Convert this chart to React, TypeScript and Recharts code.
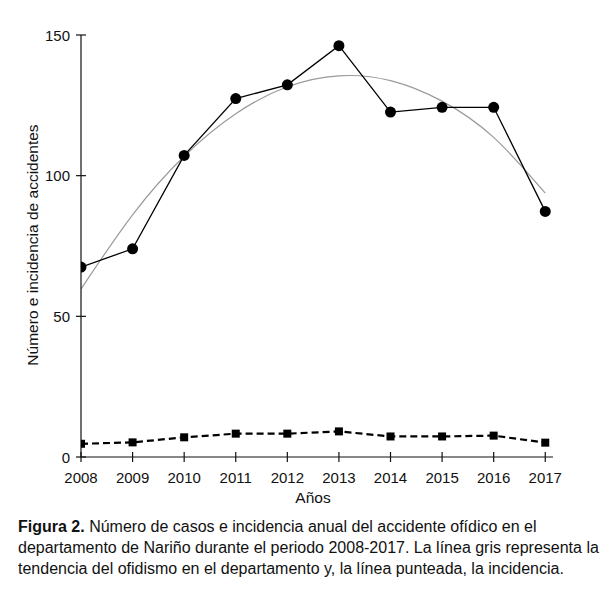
import { LineChart, Line, XAxis, YAxis } from 'recharts';

const years = [2008, 2009, 2010, 2011, 2012, 2013, 2014, 2015, 2016, 2017];
const casos = [67.5, 74, 107.2, 127.4, 132.3, 146.2, 122.6, 124.3, 124.3, 87.3];
const tendencia = [59.7, 86.1, 106.9, 122, 131.6, 135.5, 133.8, 126.5, 113.6, 93.8];
const incidencia = [4.7, 5.2, 7, 8.3, 8.3, 9.1, 7.3, 7.3, 7.6, 5.1];
const yTicks = [0, 50, 100, 150];

const FONT = '"Liberation Sans", Arial, Helvetica, sans-serif';

const data = years.map((y, i) => ({
  year: y,
  casos: casos[i],
  tendencia: tendencia[i],
  incidencia: incidencia[i],
}));

function XTick({ x, y, payload }: any) {
  return (
    <g>
      <line x1={x} x2={x} y1={y - 5} y2={y + 5} stroke="#111" strokeWidth={1.2} />
      <text x={x} y={y + 26} textAnchor="middle" fontSize={15} fontFamily={FONT} fill="#111">
        {payload.value}
      </text>
    </g>
  );
}

function YTick({ x, y, payload }: any) {
  return (
    <g>
      <line x1={x - 5} x2={x + 5} y1={y} y2={y} stroke="#111" strokeWidth={1.2} />
      <text x={x - 11} y={y + 5.5} textAnchor="end" fontSize={15} fontFamily={FONT} fill="#111">
        {payload.value}
      </text>
    </g>
  );
}

function SquareDot({ cx, cy, index }: any) {
  return <rect key={`sq-${index}`} x={cx - 4} y={cy - 4} width={8} height={8} fill="#000" />;
}

export default function App() {
  return (
    <div style={{ position: 'absolute', left: 0, top: 0, width: 612, height: 598, background: '#fff', fontFamily: FONT }}>
      <LineChart width={612} height={598} data={data} margin={{ top: 35, right: 59, left: 21, bottom: 111 }}>
        <XAxis
          dataKey="year"
          type="number"
          domain={[2008, 2017.15]}
          ticks={years}
          allowDataOverflow
          height={30}
          tickSize={0}
          tickMargin={0}
          tick={<XTick />}
          axisLine={{ stroke: '#111', strokeWidth: 1.2 }}
          tickLine={false}
        />
        <YAxis
          domain={[0, 150]}
          ticks={yTicks}
          width={60}
          tickSize={0}
          tickMargin={0}
          tick={<YTick />}
          axisLine={{ stroke: '#111', strokeWidth: 1.2 }}
          tickLine={false}
        />
        <Line
          dataKey="tendencia"
          type="natural"
          stroke="#9a9a9a"
          strokeWidth={1.2}
          dot={false}
          isAnimationActive={false}
        />
        <Line
          dataKey="incidencia"
          type="linear"
          stroke="#000"
          strokeWidth={2.2}
          strokeDasharray="7 4"
          dot={<SquareDot />}
          isAnimationActive={false}
        />
        <Line
          dataKey="casos"
          type="linear"
          stroke="#000"
          strokeWidth={1.3}
          dot={{ r: 5.5, fill: '#000', stroke: '#000', strokeWidth: 0 }}
          isAnimationActive={false}
        />
      </LineChart>
      <div
        style={{
          position: 'absolute',
          left: 33,
          top: 245,
          transform: 'translate(-50%, -50%) rotate(-90deg)',
          whiteSpace: 'nowrap',
          fontSize: 15.5,
          color: '#111',
        }}
      >
        Número e incidencia de accidentes
      </div>
      <div
        style={{
          position: 'absolute',
          left: 313,
          top: 498,
          transform: 'translate(-50%, -50%)',
          fontSize: 15.5,
          color: '#111',
        }}
      >
        Años
      </div>
      <div
        style={{
          position: 'absolute',
          left: 18,
          top: 516,
          width: 600,
          fontSize: 16,
          lineHeight: '21px',
          color: '#111',
          whiteSpace: 'nowrap',
        }}
      >
        <b>Figura 2.</b> Número de casos e incidencia anual del accidente ofídico en el
        <br />
        departamento de Nariño durante el periodo 2008-2017. La línea gris representa la
        <br />
        tendencia del ofidismo en el departamento y, la línea punteada, la incidencia.
      </div>
    </div>
  );
}
